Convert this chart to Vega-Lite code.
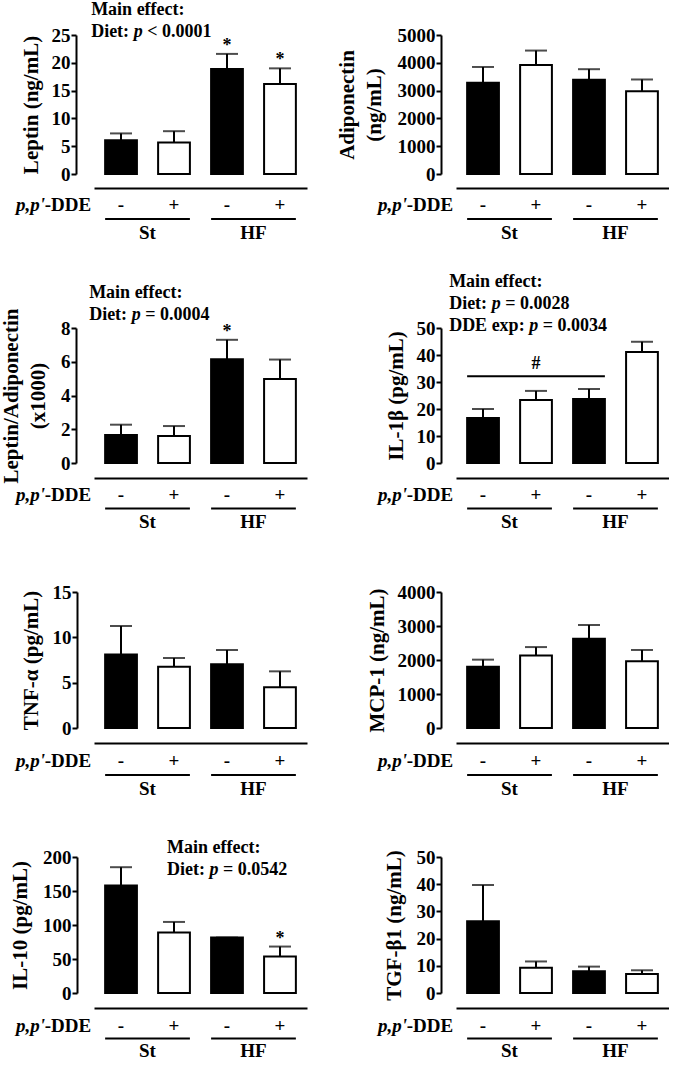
{
"$schema": "https://vega.github.io/schema/vega-lite/v6.json",
"background": "white",
"padding": {"left": 0, "top": 1, "right": 0, "bottom": 0},
"autosize": {"type": "pad"},
"columns": 2,
"spacing": {"row": 0, "column": 149},
"bounds": "flush",
"align": {"row": "each", "column": "all"},
"config": {
  "view": {"stroke": null},
  "font": "Liberation Serif",
  "axis": {"labelFont": "Liberation Serif", "titleFont": "Liberation Serif", "labelFontWeight": "bold", "titleFontWeight": "bold", "labelFontSize": 19, "titleFontSize": 21, "labelColor": "black", "titleColor": "black", "domainColor": "black", "tickColor": "black", "domainWidth": 2, "tickWidth": 2, "tickSize": 5, "grid": false, "labelPadding": 1, "titlePadding": 10, "titleLineHeight": 27, "labelOverlap": false},
  "text": {"font": "Liberation Serif", "fontWeight": "bold", "fontSize": 18, "color": "black"}
},
"datasets": {
  "d": [
    {"panel": "Leptin", "g": "St-", "diet": "St", "dde": "-", "mean": 6.05, "err": 7.3, "sig": ""},
    {"panel": "Leptin", "g": "St+", "diet": "St", "dde": "+", "mean": 5.65, "err": 7.7, "sig": ""},
    {"panel": "Leptin", "g": "HF-", "diet": "HF", "dde": "-", "mean": 18.9, "err": 21.6, "sig": "*"},
    {"panel": "Leptin", "g": "HF+", "diet": "HF", "dde": "+", "mean": 16.2, "err": 19.0, "sig": "*"},
    {"panel": "Adipo", "g": "St-", "diet": "St", "dde": "-", "mean": 3280, "err": 3850, "sig": ""},
    {"panel": "Adipo", "g": "St+", "diet": "St", "dde": "+", "mean": 3920, "err": 4440, "sig": ""},
    {"panel": "Adipo", "g": "HF-", "diet": "HF", "dde": "-", "mean": 3390, "err": 3770, "sig": ""},
    {"panel": "Adipo", "g": "HF+", "diet": "HF", "dde": "+", "mean": 2980, "err": 3400, "sig": ""},
    {"panel": "Ratio", "g": "St-", "diet": "St", "dde": "-", "mean": 1.66, "err": 2.27, "sig": ""},
    {"panel": "Ratio", "g": "St+", "diet": "St", "dde": "+", "mean": 1.6, "err": 2.19, "sig": ""},
    {"panel": "Ratio", "g": "HF-", "diet": "HF", "dde": "-", "mean": 6.15, "err": 7.3, "sig": "*"},
    {"panel": "Ratio", "g": "HF+", "diet": "HF", "dde": "+", "mean": 4.98, "err": 6.13, "sig": ""},
    {"panel": "IL1b", "g": "St-", "diet": "St", "dde": "-", "mean": 16.7, "err": 20.0, "sig": ""},
    {"panel": "IL1b", "g": "St+", "diet": "St", "dde": "+", "mean": 23.3, "err": 26.7, "sig": ""},
    {"panel": "IL1b", "g": "HF-", "diet": "HF", "dde": "-", "mean": 23.7, "err": 27.4, "sig": ""},
    {"panel": "IL1b", "g": "HF+", "diet": "HF", "dde": "+", "mean": 41.1, "err": 44.9, "sig": ""},
    {"panel": "TNFa", "g": "St-", "diet": "St", "dde": "-", "mean": 8.1, "err": 11.25, "sig": ""},
    {"panel": "TNFa", "g": "St+", "diet": "St", "dde": "+", "mean": 6.76, "err": 7.72, "sig": ""},
    {"panel": "TNFa", "g": "HF-", "diet": "HF", "dde": "-", "mean": 7.02, "err": 8.6, "sig": ""},
    {"panel": "TNFa", "g": "HF+", "diet": "HF", "dde": "+", "mean": 4.5, "err": 6.25, "sig": ""},
    {"panel": "MCP1", "g": "St-", "diet": "St", "dde": "-", "mean": 1800, "err": 2010, "sig": ""},
    {"panel": "MCP1", "g": "St+", "diet": "St", "dde": "+", "mean": 2135, "err": 2380, "sig": ""},
    {"panel": "MCP1", "g": "HF-", "diet": "HF", "dde": "-", "mean": 2625, "err": 3030, "sig": ""},
    {"panel": "MCP1", "g": "HF+", "diet": "HF", "dde": "+", "mean": 1960, "err": 2295, "sig": ""},
    {"panel": "IL10", "g": "St-", "diet": "St", "dde": "-", "mean": 158, "err": 185, "sig": ""},
    {"panel": "IL10", "g": "St+", "diet": "St", "dde": "+", "mean": 89, "err": 104.5, "sig": ""},
    {"panel": "IL10", "g": "HF-", "diet": "HF", "dde": "-", "mean": 81.5, "err": 81.5, "sig": ""},
    {"panel": "IL10", "g": "HF+", "diet": "HF", "dde": "+", "mean": 53.7, "err": 68.3, "sig": "*"},
    {"panel": "TGFb1", "g": "St-", "diet": "St", "dde": "-", "mean": 26.4, "err": 39.7, "sig": ""},
    {"panel": "TGFb1", "g": "St+", "diet": "St", "dde": "+", "mean": 9.3, "err": 11.6, "sig": ""},
    {"panel": "TGFb1", "g": "HF-", "diet": "HF", "dde": "-", "mean": 8.0, "err": 9.7, "sig": ""},
    {"panel": "TGFb1", "g": "HF+", "diet": "HF", "dde": "+", "mean": 7.0, "err": 8.35, "sig": ""}
  ],
  "grp": [
    {"g": "St-", "sign": "-"}, {"g": "St+", "sign": "+"}, {"g": "HF-", "sign": "-"}, {"g": "HF+", "sign": "+"}
  ],
  "und": [
    {"diet": "St", "from": "St-", "to": "St+"}, {"diet": "HF", "from": "HF-", "to": "HF+"}
  ]
},
"concat": [
  {"width": 213, "height": 139, "data": {"name": "d"}, "transform": [{"filter": "datum.panel == 'Leptin'"}],
   "encoding": {"x": {"field": "g", "type": "nominal", "scale": {"domain": ["St-","St+","HF-","HF+"], "paddingInner": 0.4, "paddingOuter": 0.21}, "axis": {"offset": 14, "ticks": false, "labels": false, "title": null}}},
   "layer": [
    {"mark": {"type": "bar", "stroke": "black", "strokeWidth": 2}, "encoding": {"y": {"field": "mean", "type": "quantitative", "scale": {"domain": [0, 25], "nice": false}, "axis": {"values": [0,5,10,15,20,25], "format": "d", "offset": 18, "title": "Leptin (ng/mL)", "titlePadding": 10}}, "fill": {"field": "dde", "type": "nominal", "scale": {"domain": ["-","+"], "range": ["black","white"]}, "legend": null}}},
    {"mark": {"type": "rule", "strokeWidth": 2, "color": "black"}, "encoding": {"y": {"field": "mean", "type": "quantitative", "axis": {"values": [0,5,10,15,20,25], "format": "d", "offset": 18, "title": "Leptin (ng/mL)", "titlePadding": 10}}, "y2": {"field": "err"}}},
    {"mark": {"type": "tick", "thickness": 2, "size": 22, "color": "black"}, "encoding": {"y": {"field": "err", "type": "quantitative", "axis": {"values": [0,5,10,15,20,25], "format": "d", "offset": 18, "title": "Leptin (ng/mL)", "titlePadding": 10}}}},
    {"mark": {"type": "text", "baseline": "alphabetic", "dy": -3}, "encoding": {"y": {"field": "err", "type": "quantitative", "axis": {"values": [0,5,10,15,20,25], "format": "d", "offset": 18, "title": "Leptin (ng/mL)", "titlePadding": 10}}, "text": {"field": "sig"}}},
    {"data": {"values": [{"panel": "Leptin"}]},
     "encoding": {"x": {"datum": "St-", "bandPosition": 0}, "y": {"datum": 31.1, "type": "quantitative", "axis": {"values": [0,5,10,15,20,25], "format": "d", "offset": 18, "title": "Leptin (ng/mL)", "titlePadding": 10}}},
     "layer": [
      {"mark": {"type": "text", "text": "Main effect:", "align": "left", "baseline": "top", "dx": -14}},
      {"mark": {"type": "text", "text": "Diet:", "align": "left", "baseline": "top", "dx": -14, "dy": 22}},
      {"mark": {"type": "text", "text": "p", "fontStyle": "italic", "align": "left", "baseline": "top", "dx": 28.5, "dy": 22}},
      {"mark": {"type": "text", "text": "< 0.0001", "align": "left", "baseline": "top", "dx": 42, "dy": 22}}
     ]}
   ]},
  {"width": 213, "height": 139, "data": {"name": "d"}, "transform": [{"filter": "datum.panel == 'Adipo'"}],
   "encoding": {"x": {"field": "g", "type": "nominal", "scale": {"domain": ["St-","St+","HF-","HF+"], "paddingInner": 0.4, "paddingOuter": 0.21}, "axis": {"offset": 14, "ticks": false, "labels": false, "title": null}}},
   "layer": [
    {"mark": {"type": "bar", "stroke": "black", "strokeWidth": 2}, "encoding": {"y": {"field": "mean", "type": "quantitative", "scale": {"domain": [0, 5000], "nice": false}, "axis": {"values": [0,1000,2000,3000,4000,5000], "format": "d", "offset": 15, "title": ["Adiponectin", "(ng/mL)"], "titlePadding": 13}}, "fill": {"field": "dde", "type": "nominal", "scale": {"domain": ["-","+"], "range": ["black","white"]}, "legend": null}}},
    {"mark": {"type": "rule", "strokeWidth": 2, "color": "black"}, "encoding": {"y": {"field": "mean", "type": "quantitative", "axis": {"values": [0,1000,2000,3000,4000,5000], "format": "d", "offset": 15, "title": ["Adiponectin", "(ng/mL)"], "titlePadding": 13}}, "y2": {"field": "err"}}},
    {"mark": {"type": "tick", "thickness": 2, "size": 22, "color": "black"}, "encoding": {"y": {"field": "err", "type": "quantitative", "axis": {"values": [0,1000,2000,3000,4000,5000], "format": "d", "offset": 15, "title": ["Adiponectin", "(ng/mL)"], "titlePadding": 13}}}}
   ]},
  {"width": 213, "height": 154,
   "layer": [
    {"data": {"name": "grp"}, "mark": {"type": "text", "baseline": "middle", "fontSize": 19}, "encoding": {"x": {"field": "g", "type": "nominal", "scale": {"domain": ["St-","St+","HF-","HF+"], "paddingInner": 0.4, "paddingOuter": 0.21}, "axis": null}, "y": {"datum": "dde", "type": "ordinal", "scale": {"type": "point", "domain": ["dde","line","diet"], "range": [31, 59], "padding": 0}, "axis": null}, "text": {"field": "sign"}}},
    {"data": {"name": "und"}, "mark": {"type": "rule", "strokeWidth": 2, "color": "black"}, "encoding": {"x": {"field": "from", "type": "nominal", "bandPosition": 0}, "x2": {"field": "to", "bandPosition": 1}, "y": {"datum": "line", "type": "ordinal"}}},
    {"data": {"name": "und"}, "mark": {"type": "text", "baseline": "middle", "fontSize": 19}, "encoding": {"x": {"field": "from", "type": "nominal", "bandPosition": 1.33}, "y": {"datum": "diet", "type": "ordinal"}, "text": {"field": "diet"}}},
    {"data": {"values": [{}]}, "mark": {"type": "text", "text": "-DDE", "align": "right", "baseline": "middle", "dx": -14, "fontSize": 19}, "encoding": {"x": {"datum": "St-", "bandPosition": 0}, "y": {"datum": "dde", "type": "ordinal"}}},
    {"data": {"values": [{}]}, "mark": {"type": "text", "text": "p,p'", "align": "right", "baseline": "middle", "dx": -60, "fontSize": 19, "fontStyle": "italic"}, "encoding": {"x": {"datum": "St-", "bandPosition": 0}, "y": {"datum": "dde", "type": "ordinal"}}}
   ]},
  {"width": 213, "height": 154,
   "layer": [
    {"data": {"name": "grp"}, "mark": {"type": "text", "baseline": "middle", "fontSize": 19}, "encoding": {"x": {"field": "g", "type": "nominal", "scale": {"domain": ["St-","St+","HF-","HF+"], "paddingInner": 0.4, "paddingOuter": 0.21}, "axis": null}, "y": {"datum": "dde", "type": "ordinal", "scale": {"type": "point", "domain": ["dde","line","diet"], "range": [31, 59], "padding": 0}, "axis": null}, "text": {"field": "sign"}}},
    {"data": {"name": "und"}, "mark": {"type": "rule", "strokeWidth": 2, "color": "black"}, "encoding": {"x": {"field": "from", "type": "nominal", "bandPosition": 0}, "x2": {"field": "to", "bandPosition": 1}, "y": {"datum": "line", "type": "ordinal"}}},
    {"data": {"name": "und"}, "mark": {"type": "text", "baseline": "middle", "fontSize": 19}, "encoding": {"x": {"field": "from", "type": "nominal", "bandPosition": 1.33}, "y": {"datum": "diet", "type": "ordinal"}, "text": {"field": "diet"}}},
    {"data": {"values": [{}]}, "mark": {"type": "text", "text": "-DDE", "align": "right", "baseline": "middle", "dx": -14, "fontSize": 19}, "encoding": {"x": {"datum": "St-", "bandPosition": 0}, "y": {"datum": "dde", "type": "ordinal"}}},
    {"data": {"values": [{}]}, "mark": {"type": "text", "text": "p,p'", "align": "right", "baseline": "middle", "dx": -60, "fontSize": 19, "fontStyle": "italic"}, "encoding": {"x": {"datum": "St-", "bandPosition": 0}, "y": {"datum": "dde", "type": "ordinal"}}}
   ]},
  {"width": 213, "height": 135, "data": {"name": "d"}, "transform": [{"filter": "datum.panel == 'Ratio'"}],
   "encoding": {"x": {"field": "g", "type": "nominal", "scale": {"domain": ["St-","St+","HF-","HF+"], "paddingInner": 0.4, "paddingOuter": 0.21}, "axis": {"offset": 15, "ticks": false, "labels": false, "title": null}}},
   "layer": [
    {"mark": {"type": "bar", "stroke": "black", "strokeWidth": 2}, "encoding": {"y": {"field": "mean", "type": "quantitative", "scale": {"domain": [0, 8], "nice": false}, "axis": {"values": [0,2,4,6,8], "format": "d", "offset": 18, "title": ["Leptin/Adiponectin", "(x1000)"], "titlePadding": 12}}, "fill": {"field": "dde", "type": "nominal", "scale": {"domain": ["-","+"], "range": ["black","white"]}, "legend": null}}},
    {"mark": {"type": "rule", "strokeWidth": 2, "color": "black"}, "encoding": {"y": {"field": "mean", "type": "quantitative", "axis": {"values": [0,2,4,6,8], "format": "d", "offset": 18, "title": ["Leptin/Adiponectin", "(x1000)"], "titlePadding": 12}}, "y2": {"field": "err"}}},
    {"mark": {"type": "tick", "thickness": 2, "size": 22, "color": "black"}, "encoding": {"y": {"field": "err", "type": "quantitative", "axis": {"values": [0,2,4,6,8], "format": "d", "offset": 18, "title": ["Leptin/Adiponectin", "(x1000)"], "titlePadding": 12}}}},
    {"mark": {"type": "text", "baseline": "alphabetic", "dy": -3}, "encoding": {"y": {"field": "err", "type": "quantitative", "axis": {"values": [0,2,4,6,8], "format": "d", "offset": 18, "title": ["Leptin/Adiponectin", "(x1000)"], "titlePadding": 12}}, "text": {"field": "sig"}}},
    {"data": {"values": [{"panel": "Ratio"}]},
     "encoding": {"x": {"datum": "St-", "bandPosition": 0}, "y": {"datum": 10.6, "type": "quantitative", "axis": {"values": [0,2,4,6,8], "format": "d", "offset": 18, "title": ["Leptin/Adiponectin", "(x1000)"], "titlePadding": 12}}},
     "layer": [
      {"mark": {"type": "text", "text": "Main effect:", "align": "left", "baseline": "top", "dx": -16}},
      {"mark": {"type": "text", "text": "Diet:", "align": "left", "baseline": "top", "dx": -16, "dy": 22}},
      {"mark": {"type": "text", "text": "p", "fontStyle": "italic", "align": "left", "baseline": "top", "dx": 26.5, "dy": 22}},
      {"mark": {"type": "text", "text": "= 0.0004", "align": "left", "baseline": "top", "dx": 40, "dy": 22}}
     ]}
   ]},
  {"width": 213, "height": 135, "data": {"name": "d"}, "transform": [{"filter": "datum.panel == 'IL1b'"}],
   "encoding": {"x": {"field": "g", "type": "nominal", "scale": {"domain": ["St-","St+","HF-","HF+"], "paddingInner": 0.4, "paddingOuter": 0.21}, "axis": {"offset": 15, "ticks": false, "labels": false, "title": null}}},
   "layer": [
    {"mark": {"type": "bar", "stroke": "black", "strokeWidth": 2}, "encoding": {"y": {"field": "mean", "type": "quantitative", "scale": {"domain": [0, 50], "nice": false}, "axis": {"values": [0,10,20,30,40,50], "format": "d", "offset": 15, "title": "IL-1β (pg/mL)", "titlePadding": 10}}, "fill": {"field": "dde", "type": "nominal", "scale": {"domain": ["-","+"], "range": ["black","white"]}, "legend": null}}},
    {"mark": {"type": "rule", "strokeWidth": 2, "color": "black"}, "encoding": {"y": {"field": "mean", "type": "quantitative", "axis": {"values": [0,10,20,30,40,50], "format": "d", "offset": 15, "title": "IL-1β (pg/mL)", "titlePadding": 10}}, "y2": {"field": "err"}}},
    {"mark": {"type": "tick", "thickness": 2, "size": 22, "color": "black"}, "encoding": {"y": {"field": "err", "type": "quantitative", "axis": {"values": [0,10,20,30,40,50], "format": "d", "offset": 15, "title": "IL-1β (pg/mL)", "titlePadding": 10}}}},
    {"data": {"values": [{"panel": "IL1b"}]}, "mark": {"type": "rule", "strokeWidth": 2, "color": "black"}, "encoding": {"x": {"datum": "St-", "bandPosition": 0}, "x2": {"datum": "HF-", "bandPosition": 1}, "y": {"datum": 32.1, "type": "quantitative", "axis": {"values": [0,10,20,30,40,50], "format": "d", "offset": 15, "title": "IL-1β (pg/mL)", "titlePadding": 10}}}},
    {"data": {"values": [{"panel": "IL1b"}]}, "mark": {"type": "text", "text": "#", "baseline": "middle"}, "encoding": {"x": {"datum": "St+"}, "y": {"datum": 36.5, "type": "quantitative", "axis": {"values": [0,10,20,30,40,50], "format": "d", "offset": 15, "title": "IL-1β (pg/mL)", "titlePadding": 10}}}},
    {"data": {"values": [{"panel": "IL1b"}]},
     "encoding": {"x": {"datum": "St-", "bandPosition": 0}, "y": {"datum": 70.4, "type": "quantitative", "axis": {"values": [0,10,20,30,40,50], "format": "d", "offset": 15, "title": "IL-1β (pg/mL)", "titlePadding": 10}}},
     "layer": [
      {"mark": {"type": "text", "text": "Main effect:", "align": "left", "baseline": "top", "dx": -18}},
      {"mark": {"type": "text", "text": "Diet:", "align": "left", "baseline": "top", "dx": -18, "dy": 22}},
      {"mark": {"type": "text", "text": "p", "fontStyle": "italic", "align": "left", "baseline": "top", "dx": 24.5, "dy": 22}},
      {"mark": {"type": "text", "text": "= 0.0028", "align": "left", "baseline": "top", "dx": 38, "dy": 22}},
      {"mark": {"type": "text", "text": "DDE exp:", "align": "left", "baseline": "top", "dx": -18, "dy": 44}},
      {"mark": {"type": "text", "text": "p", "fontStyle": "italic", "align": "left", "baseline": "top", "dx": 62, "dy": 44}},
      {"mark": {"type": "text", "text": "= 0.0034", "align": "left", "baseline": "top", "dx": 75.5, "dy": 44}}
     ]}
   ]},
  {"width": 213, "height": 129,
   "layer": [
    {"data": {"name": "grp"}, "mark": {"type": "text", "baseline": "middle", "fontSize": 19}, "encoding": {"x": {"field": "g", "type": "nominal", "scale": {"domain": ["St-","St+","HF-","HF+"], "paddingInner": 0.4, "paddingOuter": 0.21}, "axis": null}, "y": {"datum": "dde", "type": "ordinal", "scale": {"type": "point", "domain": ["dde","line","diet"], "range": [32, 59], "padding": 0}, "axis": null}, "text": {"field": "sign"}}},
    {"data": {"name": "und"}, "mark": {"type": "rule", "strokeWidth": 2, "color": "black"}, "encoding": {"x": {"field": "from", "type": "nominal", "bandPosition": 0}, "x2": {"field": "to", "bandPosition": 1}, "y": {"datum": "line", "type": "ordinal"}}},
    {"data": {"name": "und"}, "mark": {"type": "text", "baseline": "middle", "fontSize": 19}, "encoding": {"x": {"field": "from", "type": "nominal", "bandPosition": 1.33}, "y": {"datum": "diet", "type": "ordinal"}, "text": {"field": "diet"}}},
    {"data": {"values": [{}]}, "mark": {"type": "text", "text": "-DDE", "align": "right", "baseline": "middle", "dx": -14, "fontSize": 19}, "encoding": {"x": {"datum": "St-", "bandPosition": 0}, "y": {"datum": "dde", "type": "ordinal"}}},
    {"data": {"values": [{}]}, "mark": {"type": "text", "text": "p,p'", "align": "right", "baseline": "middle", "dx": -60, "fontSize": 19, "fontStyle": "italic"}, "encoding": {"x": {"datum": "St-", "bandPosition": 0}, "y": {"datum": "dde", "type": "ordinal"}}}
   ]},
  {"width": 213, "height": 129,
   "layer": [
    {"data": {"name": "grp"}, "mark": {"type": "text", "baseline": "middle", "fontSize": 19}, "encoding": {"x": {"field": "g", "type": "nominal", "scale": {"domain": ["St-","St+","HF-","HF+"], "paddingInner": 0.4, "paddingOuter": 0.21}, "axis": null}, "y": {"datum": "dde", "type": "ordinal", "scale": {"type": "point", "domain": ["dde","line","diet"], "range": [32, 59], "padding": 0}, "axis": null}, "text": {"field": "sign"}}},
    {"data": {"name": "und"}, "mark": {"type": "rule", "strokeWidth": 2, "color": "black"}, "encoding": {"x": {"field": "from", "type": "nominal", "bandPosition": 0}, "x2": {"field": "to", "bandPosition": 1}, "y": {"datum": "line", "type": "ordinal"}}},
    {"data": {"name": "und"}, "mark": {"type": "text", "baseline": "middle", "fontSize": 19}, "encoding": {"x": {"field": "from", "type": "nominal", "bandPosition": 1.33}, "y": {"datum": "diet", "type": "ordinal"}, "text": {"field": "diet"}}},
    {"data": {"values": [{}]}, "mark": {"type": "text", "text": "-DDE", "align": "right", "baseline": "middle", "dx": -14, "fontSize": 19}, "encoding": {"x": {"datum": "St-", "bandPosition": 0}, "y": {"datum": "dde", "type": "ordinal"}}},
    {"data": {"values": [{}]}, "mark": {"type": "text", "text": "p,p'", "align": "right", "baseline": "middle", "dx": -60, "fontSize": 19, "fontStyle": "italic"}, "encoding": {"x": {"datum": "St-", "bandPosition": 0}, "y": {"datum": "dde", "type": "ordinal"}}}
   ]},
  {"width": 213, "height": 136, "data": {"name": "d"}, "transform": [{"filter": "datum.panel == 'TNFa'"}],
   "encoding": {"x": {"field": "g", "type": "nominal", "scale": {"domain": ["St-","St+","HF-","HF+"], "paddingInner": 0.4, "paddingOuter": 0.21}, "axis": {"offset": 15, "ticks": false, "labels": false, "title": null}}},
   "layer": [
    {"mark": {"type": "bar", "stroke": "black", "strokeWidth": 2}, "encoding": {"y": {"field": "mean", "type": "quantitative", "scale": {"domain": [0, 15], "nice": false}, "axis": {"values": [0,5,10,15], "format": "d", "offset": 17, "title": "TNF-α (pg/mL)", "titlePadding": 11}}, "fill": {"field": "dde", "type": "nominal", "scale": {"domain": ["-","+"], "range": ["black","white"]}, "legend": null}}},
    {"mark": {"type": "rule", "strokeWidth": 2, "color": "black"}, "encoding": {"y": {"field": "mean", "type": "quantitative", "axis": {"values": [0,5,10,15], "format": "d", "offset": 17, "title": "TNF-α (pg/mL)", "titlePadding": 11}}, "y2": {"field": "err"}}},
    {"mark": {"type": "tick", "thickness": 2, "size": 22, "color": "black"}, "encoding": {"y": {"field": "err", "type": "quantitative", "axis": {"values": [0,5,10,15], "format": "d", "offset": 17, "title": "TNF-α (pg/mL)", "titlePadding": 11}}}}
   ]},
  {"width": 213, "height": 136, "data": {"name": "d"}, "transform": [{"filter": "datum.panel == 'MCP1'"}],
   "encoding": {"x": {"field": "g", "type": "nominal", "scale": {"domain": ["St-","St+","HF-","HF+"], "paddingInner": 0.4, "paddingOuter": 0.21}, "axis": {"offset": 15, "ticks": false, "labels": false, "title": null}}},
   "layer": [
    {"mark": {"type": "bar", "stroke": "black", "strokeWidth": 2}, "encoding": {"y": {"field": "mean", "type": "quantitative", "scale": {"domain": [0, 4000], "nice": false}, "axis": {"values": [0,1000,2000,3000,4000], "format": "d", "offset": 15, "title": "MCP-1 (ng/mL)", "titlePadding": 10}}, "fill": {"field": "dde", "type": "nominal", "scale": {"domain": ["-","+"], "range": ["black","white"]}, "legend": null}}},
    {"mark": {"type": "rule", "strokeWidth": 2, "color": "black"}, "encoding": {"y": {"field": "mean", "type": "quantitative", "axis": {"values": [0,1000,2000,3000,4000], "format": "d", "offset": 15, "title": "MCP-1 (ng/mL)", "titlePadding": 10}}, "y2": {"field": "err"}}},
    {"mark": {"type": "tick", "thickness": 2, "size": 22, "color": "black"}, "encoding": {"y": {"field": "err", "type": "quantitative", "axis": {"values": [0,1000,2000,3000,4000], "format": "d", "offset": 15, "title": "MCP-1 (ng/mL)", "titlePadding": 10}}}}
   ]},
  {"width": 213, "height": 129,
   "layer": [
    {"data": {"name": "grp"}, "mark": {"type": "text", "baseline": "middle", "fontSize": 19}, "encoding": {"x": {"field": "g", "type": "nominal", "scale": {"domain": ["St-","St+","HF-","HF+"], "paddingInner": 0.4, "paddingOuter": 0.21}, "axis": null}, "y": {"datum": "dde", "type": "ordinal", "scale": {"type": "point", "domain": ["dde","line","diet"], "range": [33, 61], "padding": 0}, "axis": null}, "text": {"field": "sign"}}},
    {"data": {"name": "und"}, "mark": {"type": "rule", "strokeWidth": 2, "color": "black"}, "encoding": {"x": {"field": "from", "type": "nominal", "bandPosition": 0}, "x2": {"field": "to", "bandPosition": 1}, "y": {"datum": "line", "type": "ordinal"}}},
    {"data": {"name": "und"}, "mark": {"type": "text", "baseline": "middle", "fontSize": 19}, "encoding": {"x": {"field": "from", "type": "nominal", "bandPosition": 1.33}, "y": {"datum": "diet", "type": "ordinal"}, "text": {"field": "diet"}}},
    {"data": {"values": [{}]}, "mark": {"type": "text", "text": "-DDE", "align": "right", "baseline": "middle", "dx": -14, "fontSize": 19}, "encoding": {"x": {"datum": "St-", "bandPosition": 0}, "y": {"datum": "dde", "type": "ordinal"}}},
    {"data": {"values": [{}]}, "mark": {"type": "text", "text": "p,p'", "align": "right", "baseline": "middle", "dx": -60, "fontSize": 19, "fontStyle": "italic"}, "encoding": {"x": {"datum": "St-", "bandPosition": 0}, "y": {"datum": "dde", "type": "ordinal"}}}
   ]},
  {"width": 213, "height": 129,
   "layer": [
    {"data": {"name": "grp"}, "mark": {"type": "text", "baseline": "middle", "fontSize": 19}, "encoding": {"x": {"field": "g", "type": "nominal", "scale": {"domain": ["St-","St+","HF-","HF+"], "paddingInner": 0.4, "paddingOuter": 0.21}, "axis": null}, "y": {"datum": "dde", "type": "ordinal", "scale": {"type": "point", "domain": ["dde","line","diet"], "range": [33, 61], "padding": 0}, "axis": null}, "text": {"field": "sign"}}},
    {"data": {"name": "und"}, "mark": {"type": "rule", "strokeWidth": 2, "color": "black"}, "encoding": {"x": {"field": "from", "type": "nominal", "bandPosition": 0}, "x2": {"field": "to", "bandPosition": 1}, "y": {"datum": "line", "type": "ordinal"}}},
    {"data": {"name": "und"}, "mark": {"type": "text", "baseline": "middle", "fontSize": 19}, "encoding": {"x": {"field": "from", "type": "nominal", "bandPosition": 1.33}, "y": {"datum": "diet", "type": "ordinal"}, "text": {"field": "diet"}}},
    {"data": {"values": [{}]}, "mark": {"type": "text", "text": "-DDE", "align": "right", "baseline": "middle", "dx": -14, "fontSize": 19}, "encoding": {"x": {"datum": "St-", "bandPosition": 0}, "y": {"datum": "dde", "type": "ordinal"}}},
    {"data": {"values": [{}]}, "mark": {"type": "text", "text": "p,p'", "align": "right", "baseline": "middle", "dx": -60, "fontSize": 19, "fontStyle": "italic"}, "encoding": {"x": {"datum": "St-", "bandPosition": 0}, "y": {"datum": "dde", "type": "ordinal"}}}
   ]},
  {"width": 213, "height": 136, "data": {"name": "d"}, "transform": [{"filter": "datum.panel == 'IL10'"}],
   "encoding": {"x": {"field": "g", "type": "nominal", "scale": {"domain": ["St-","St+","HF-","HF+"], "paddingInner": 0.4, "paddingOuter": 0.21}, "axis": {"offset": 15, "ticks": false, "labels": false, "title": null}}},
   "layer": [
    {"mark": {"type": "bar", "stroke": "black", "strokeWidth": 2}, "encoding": {"y": {"field": "mean", "type": "quantitative", "scale": {"domain": [0, 200], "nice": false}, "axis": {"values": [0,50,100,150,200], "format": "d", "offset": 17, "title": "IL-10 (pg/mL)", "titlePadding": 12}}, "fill": {"field": "dde", "type": "nominal", "scale": {"domain": ["-","+"], "range": ["black","white"]}, "legend": null}}},
    {"mark": {"type": "rule", "strokeWidth": 2, "color": "black"}, "encoding": {"y": {"field": "mean", "type": "quantitative", "axis": {"values": [0,50,100,150,200], "format": "d", "offset": 17, "title": "IL-10 (pg/mL)", "titlePadding": 12}}, "y2": {"field": "err"}}},
    {"mark": {"type": "tick", "thickness": 2, "size": 22, "color": "black"}, "encoding": {"y": {"field": "err", "type": "quantitative", "axis": {"values": [0,50,100,150,200], "format": "d", "offset": 17, "title": "IL-10 (pg/mL)", "titlePadding": 12}}}},
    {"mark": {"type": "text", "baseline": "alphabetic", "dy": -3}, "encoding": {"y": {"field": "err", "type": "quantitative", "axis": {"values": [0,50,100,150,200], "format": "d", "offset": 17, "title": "IL-10 (pg/mL)", "titlePadding": 12}}, "text": {"field": "sig"}}},
    {"data": {"values": [{"panel": "IL10"}]},
     "encoding": {"x": {"datum": "St+", "bandPosition": 0}, "y": {"datum": 226.5, "type": "quantitative", "axis": {"values": [0,50,100,150,200], "format": "d", "offset": 17, "title": "IL-10 (pg/mL)", "titlePadding": 12}}},
     "layer": [
      {"mark": {"type": "text", "text": "Main effect:", "align": "left", "baseline": "top", "dx": 9}},
      {"mark": {"type": "text", "text": "Diet:", "align": "left", "baseline": "top", "dx": 9, "dy": 22}},
      {"mark": {"type": "text", "text": "p", "fontStyle": "italic", "align": "left", "baseline": "top", "dx": 51.5, "dy": 22}},
      {"mark": {"type": "text", "text": "= 0.0542", "align": "left", "baseline": "top", "dx": 65, "dy": 22}}
     ]}
   ]},
  {"width": 213, "height": 136, "data": {"name": "d"}, "transform": [{"filter": "datum.panel == 'TGFb1'"}],
   "encoding": {"x": {"field": "g", "type": "nominal", "scale": {"domain": ["St-","St+","HF-","HF+"], "paddingInner": 0.4, "paddingOuter": 0.21}, "axis": {"offset": 15, "ticks": false, "labels": false, "title": null}}},
   "layer": [
    {"mark": {"type": "bar", "stroke": "black", "strokeWidth": 2}, "encoding": {"y": {"field": "mean", "type": "quantitative", "scale": {"domain": [0, 50], "nice": false}, "axis": {"values": [0,10,20,30,40,50], "format": "d", "offset": 15, "title": "TGF-β1 (ng/mL)", "titlePadding": 12}}, "fill": {"field": "dde", "type": "nominal", "scale": {"domain": ["-","+"], "range": ["black","white"]}, "legend": null}}},
    {"mark": {"type": "rule", "strokeWidth": 2, "color": "black"}, "encoding": {"y": {"field": "mean", "type": "quantitative", "axis": {"values": [0,10,20,30,40,50], "format": "d", "offset": 15, "title": "TGF-β1 (ng/mL)", "titlePadding": 12}}, "y2": {"field": "err"}}},
    {"mark": {"type": "tick", "thickness": 2, "size": 22, "color": "black"}, "encoding": {"y": {"field": "err", "type": "quantitative", "axis": {"values": [0,10,20,30,40,50], "format": "d", "offset": 15, "title": "TGF-β1 (ng/mL)", "titlePadding": 12}}}}
   ]},
  {"width": 213, "height": 72,
   "layer": [
    {"data": {"name": "grp"}, "mark": {"type": "text", "baseline": "middle", "fontSize": 19}, "encoding": {"x": {"field": "g", "type": "nominal", "scale": {"domain": ["St-","St+","HF-","HF+"], "paddingInner": 0.4, "paddingOuter": 0.21}, "axis": null}, "y": {"datum": "dde", "type": "ordinal", "scale": {"type": "point", "domain": ["dde","line","diet"], "range": [33, 58], "padding": 0}, "axis": null}, "text": {"field": "sign"}}},
    {"data": {"name": "und"}, "mark": {"type": "rule", "strokeWidth": 2, "color": "black"}, "encoding": {"x": {"field": "from", "type": "nominal", "bandPosition": 0}, "x2": {"field": "to", "bandPosition": 1}, "y": {"datum": "line", "type": "ordinal"}}},
    {"data": {"name": "und"}, "mark": {"type": "text", "baseline": "middle", "fontSize": 19}, "encoding": {"x": {"field": "from", "type": "nominal", "bandPosition": 1.33}, "y": {"datum": "diet", "type": "ordinal"}, "text": {"field": "diet"}}},
    {"data": {"values": [{}]}, "mark": {"type": "text", "text": "-DDE", "align": "right", "baseline": "middle", "dx": -14, "fontSize": 19}, "encoding": {"x": {"datum": "St-", "bandPosition": 0}, "y": {"datum": "dde", "type": "ordinal"}}},
    {"data": {"values": [{}]}, "mark": {"type": "text", "text": "p,p'", "align": "right", "baseline": "middle", "dx": -60, "fontSize": 19, "fontStyle": "italic"}, "encoding": {"x": {"datum": "St-", "bandPosition": 0}, "y": {"datum": "dde", "type": "ordinal"}}}
   ]},
  {"width": 213, "height": 72,
   "layer": [
    {"data": {"name": "grp"}, "mark": {"type": "text", "baseline": "middle", "fontSize": 19}, "encoding": {"x": {"field": "g", "type": "nominal", "scale": {"domain": ["St-","St+","HF-","HF+"], "paddingInner": 0.4, "paddingOuter": 0.21}, "axis": null}, "y": {"datum": "dde", "type": "ordinal", "scale": {"type": "point", "domain": ["dde","line","diet"], "range": [33, 58], "padding": 0}, "axis": null}, "text": {"field": "sign"}}},
    {"data": {"name": "und"}, "mark": {"type": "rule", "strokeWidth": 2, "color": "black"}, "encoding": {"x": {"field": "from", "type": "nominal", "bandPosition": 0}, "x2": {"field": "to", "bandPosition": 1}, "y": {"datum": "line", "type": "ordinal"}}},
    {"data": {"name": "und"}, "mark": {"type": "text", "baseline": "middle", "fontSize": 19}, "encoding": {"x": {"field": "from", "type": "nominal", "bandPosition": 1.33}, "y": {"datum": "diet", "type": "ordinal"}, "text": {"field": "diet"}}},
    {"data": {"values": [{}]}, "mark": {"type": "text", "text": "-DDE", "align": "right", "baseline": "middle", "dx": -14, "fontSize": 19}, "encoding": {"x": {"datum": "St-", "bandPosition": 0}, "y": {"datum": "dde", "type": "ordinal"}}},
    {"data": {"values": [{}]}, "mark": {"type": "text", "text": "p,p'", "align": "right", "baseline": "middle", "dx": -60, "fontSize": 19, "fontStyle": "italic"}, "encoding": {"x": {"datum": "St-", "bandPosition": 0}, "y": {"datum": "dde", "type": "ordinal"}}}
   ]}
]
}
